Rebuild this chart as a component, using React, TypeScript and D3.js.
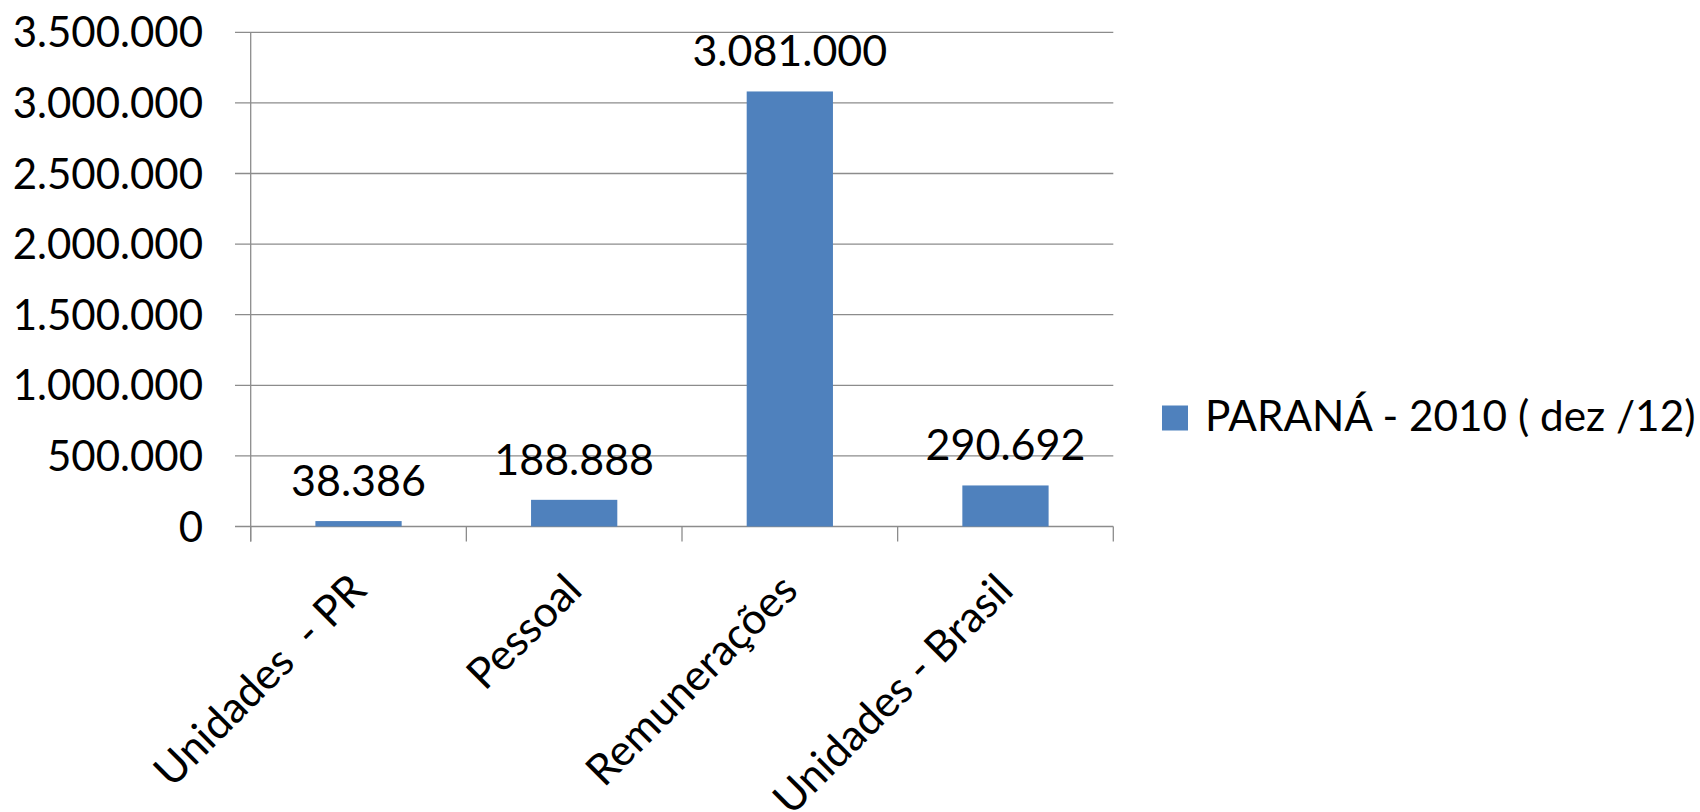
import React from "react";
import * as d3 from "d3";

// Categories and values for the single series
const categories: string[] = ["Unidades  - PR", "Pessoal", "Remunerações", "Unidades - Brasil"];
const values: number[] = [38386, 188888, 3081000, 290692];
const valueLabels: string[] = ["38.386", "188.888", "3.081.000", "290.692"];
const yTicks: number[] = [0, 500000, 1000000, 1500000, 2000000, 2500000, 3000000, 3500000];
const yTickLabels: string[] = ["0", "500.000", "1.000.000", "1.500.000", "2.000.000", "2.500.000", "3.000.000", "3.500.000"];
const seriesName = "PARANÁ - 2010 ( dez /12)";

const W = 1700;
const H = 812;
const plotLeft = 250.7;
const plotRight = 1113.3;
const plotTop = 32.3;
const plotBottom = 526.5;
const FONT = "Lato, 'Open Sans', sans-serif";
const BAR = "#4F81BD";
const GRID = "#8C8C8C";

export default function App() {
  const x = d3.scaleBand<string>().domain(categories).range([plotLeft, plotRight]).padding(0);
  const y = d3.scaleLinear().domain([0, 3500000]).range([plotBottom, plotTop]);
  const bw = x.bandwidth();
  const barW = bw * 0.4;
  const boundaries = d3.range(categories.length + 1).map((i) => plotLeft + i * bw);

  return (
    <div style={{ position: "fixed", left: 0, top: 0, width: W, height: H, background: "#fff" }}>
      <svg width={W} height={H} style={{ display: "block" }} fontFamily={FONT}>
        {/* horizontal gridlines with left tick marks */}
        {yTicks.map((t) => (
          <line key={"g" + t} x1={235} x2={plotRight} y1={y(t)} y2={y(t)} stroke={GRID} strokeWidth={1.3} />
        ))}
        {/* y axis */}
        <line x1={plotLeft} x2={plotLeft} y1={plotTop} y2={plotBottom + 15} stroke={GRID} strokeWidth={1.3} />
        {/* category ticks */}
        {boundaries.map((bx, i) => (
          <line key={"t" + i} x1={bx} x2={bx} y1={plotBottom} y2={plotBottom + 15} stroke={GRID} strokeWidth={1.3} />
        ))}
        {/* y tick labels */}
        {yTicks.map((t, i) => (
          <text key={"yl" + t} x={203} y={y(t)} dy="0.36em" textAnchor="end" fontSize={42} fill="#000">
            {yTickLabels[i]}
          </text>
        ))}
        {/* bars */}
        {categories.map((c, i) => (
          <rect
            key={"b" + c}
            x={(x(c) as number) + (bw - barW) / 2}
            y={y(values[i])}
            width={barW}
            height={plotBottom - y(values[i])}
            fill={BAR}
          />
        ))}
        {/* value labels */}
        {categories.map((c, i) => (
          <text
            key={"v" + c}
            x={(x(c) as number) + bw / 2}
            y={y(values[i]) - 25}
            textAnchor="middle"
            fontSize={43}
            fill="#000"
          >
            {valueLabels[i]}
          </text>
        ))}
        {/* rotated category labels */}
        {categories.map((c) => {
          const cx = (x(c) as number) + bw / 2 + 10;
          const cy = plotBottom + 66;
          return (
            <text
              key={"c" + c}
              x={cx}
              y={cy}
              transform={`rotate(-45 ${cx} ${cy})`}
              textAnchor="end"
              fontSize={43}
              fill="#000"
              style={{ whiteSpace: "pre" }}
            >
              {c}
            </text>
          );
        })}
        {/* legend */}
        <rect x={1162} y={405.5} width={26} height={25} fill={BAR} />
        <text x={1205} y={430.7} fontSize={42.3} fill="#000">
          {seriesName}
        </text>
      </svg>
    </div>
  );
}
